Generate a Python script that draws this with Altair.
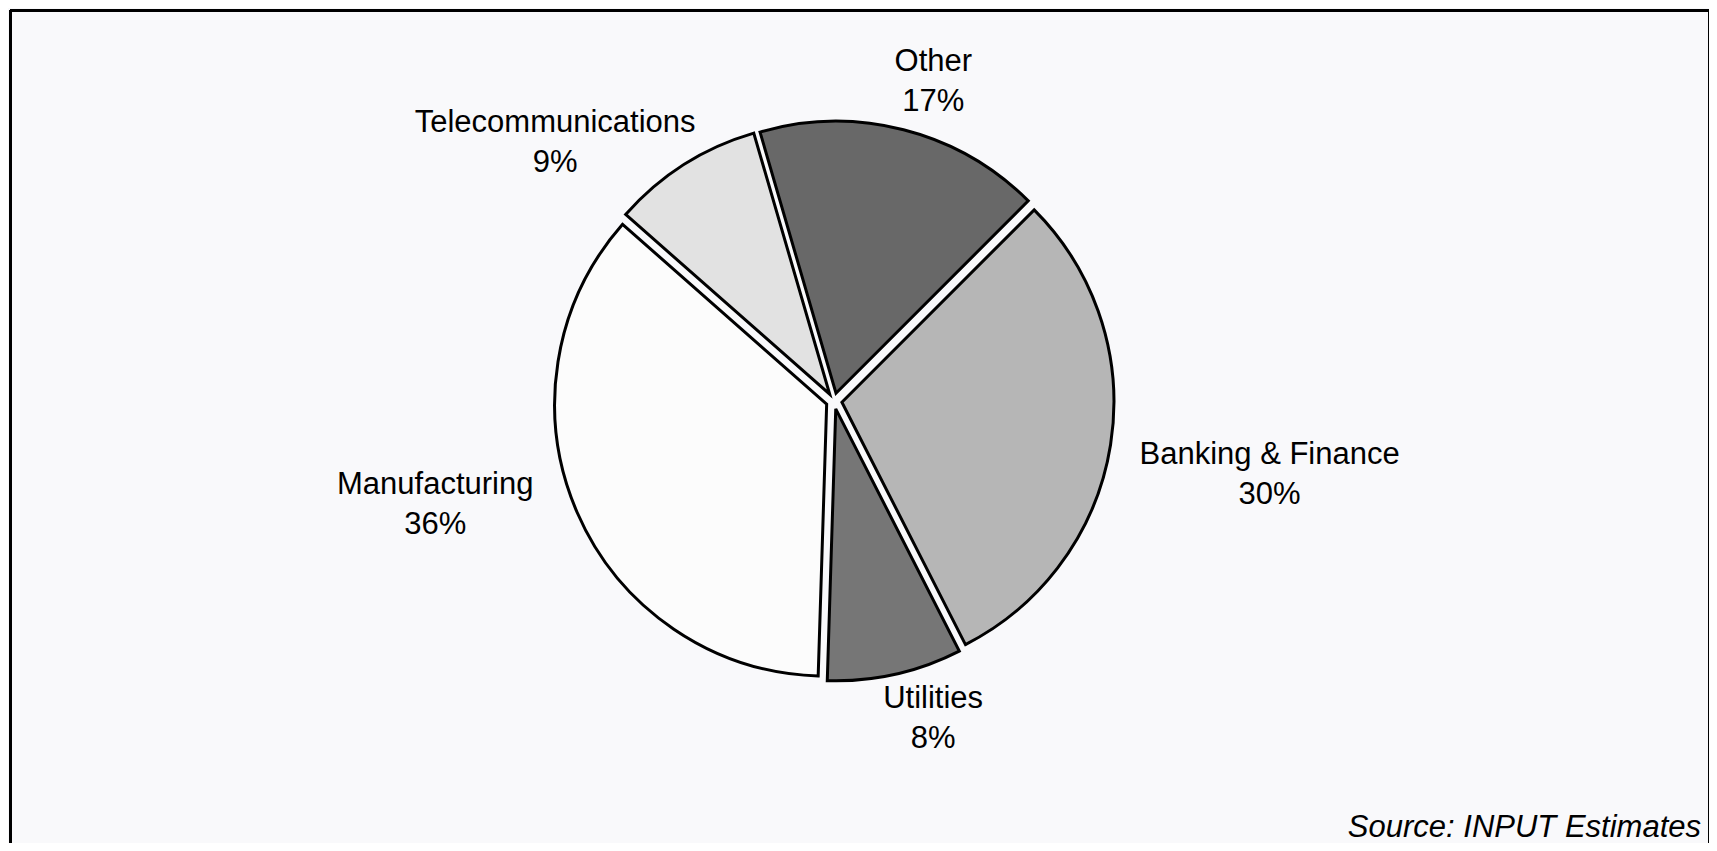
import altair as alt
import pandas as pd

# ---- data ----
sectors = ["Other", "Banking & Finance", "Utilities", "Manufacturing", "Telecommunications"]
shares = [17, 30, 8, 36, 9]
source_note = "Source: INPUT Estimates"

# ---- styles / layout ----
fills = ["#686868", "#b6b6b6", "#767676", "#fcfcfc", "#e2e2e2"]
W, H = 1701, 835
CX, CY = 824, 391          # pie centre (chart coordinates)
R = 272                    # pie radius
EXPLODE = 8                # slice explosion distance
START = -0.283             # start angle (radians, clockwise from 12 o'clock)
LRX, LRY = 440, 325        # label ellipse radii
# hand-placement nudges of the labels away from the ellipse (layout only)
label_nudge = {
    "Other": (-10, -24),
    "Banking & Finance": (1, 3),
    "Utilities": (3, -19),
    "Manufacturing": (5, -45),
    "Telecommunications": (-43, -4),
}
FONT = "Liberation Sans"

df = pd.DataFrame({"sector": sectors, "share": shares, "order": list(range(len(sectors)))})
df["ndx"] = [label_nudge[s][0] for s in sectors]
df["ndy"] = [label_nudge[s][1] for s in sectors]

base = (
    alt.Chart(df)
    .transform_window(cum="sum(share)", sort=[alt.SortField("order")], frame=[None, 0])
    .transform_joinaggregate(total="sum(share)")
    .transform_calculate(
        a0=f"{START} + 2*PI*(datum.cum - datum.share)/datum.total",
        a1=f"{START} + 2*PI*datum.cum/datum.total",
    )
    .transform_calculate(mid="(datum.a0 + datum.a1)/2")
    .transform_calculate(
        ex=f"{CX} + {EXPLODE}*sin(datum.mid)",
        ey=f"{CY} - {EXPLODE}*cos(datum.mid)",
        lx=f"{CX} + {LRX}*sin(datum.mid) + datum.ndx",
        ly=f"{CY} - {LRY}*cos(datum.mid) + datum.ndy",
        lbl="datum.sector + '\\n' + datum.share + '%'",
    )
)

arcs = base.mark_arc(radius=R, stroke="black", strokeWidth=3, strokeJoin="miter").encode(
    theta=alt.Theta("a0:Q", scale=None),
    theta2=alt.Theta2("a1:Q"),
    x=alt.X("ex:Q", scale=None, axis=None),
    y=alt.Y("ey:Q", scale=None, axis=None),
    fill=alt.Fill("sector:N", scale=alt.Scale(domain=sectors, range=fills), legend=None),
    order=alt.Order("order:Q"),
)

labels = base.mark_text(
    font=FONT, fontSize=31, color="black", align="center", baseline="middle",
    lineBreak="\n", lineHeight=40,
).encode(
    x=alt.X("lx:Q", scale=None, axis=None),
    y=alt.Y("ly:Q", scale=None, axis=None),
    text="lbl:N",
)

src = alt.Chart(pd.DataFrame({"t": [source_note]})).mark_text(
    font=FONT, fontSize=31, fontStyle="italic", color="black", align="right", baseline="middle",
).encode(x=alt.value(W - 10), y=alt.value(H - 17), text="t:N")

frame_top = alt.Chart(pd.DataFrame({"a": [0]})).mark_rule(color="black", strokeWidth=3).encode(
    x=alt.value(0), x2=alt.value(W), y=alt.value(0.5))
frame_left = alt.Chart(pd.DataFrame({"a": [0]})).mark_rule(color="black", strokeWidth=3).encode(
    x=alt.value(0.5), y=alt.value(0), y2=alt.value(H))
frame_right = alt.Chart(pd.DataFrame({"a": [0]})).mark_rule(color="black", strokeWidth=3).encode(
    x=alt.value(W - 1.5), y=alt.value(0), y2=alt.value(H))

chart = (
    alt.layer(arcs, labels, src, frame_top, frame_left, frame_right)
    .properties(width=W, height=H, padding=0,
                autosize=alt.AutoSizeParams(type="fit", contains="padding"),
                background="#f9f9fb")
    .configure_view(stroke=None)
)

chart.save("out.html", embed_options={"renderer": "svg", "actions": False})
